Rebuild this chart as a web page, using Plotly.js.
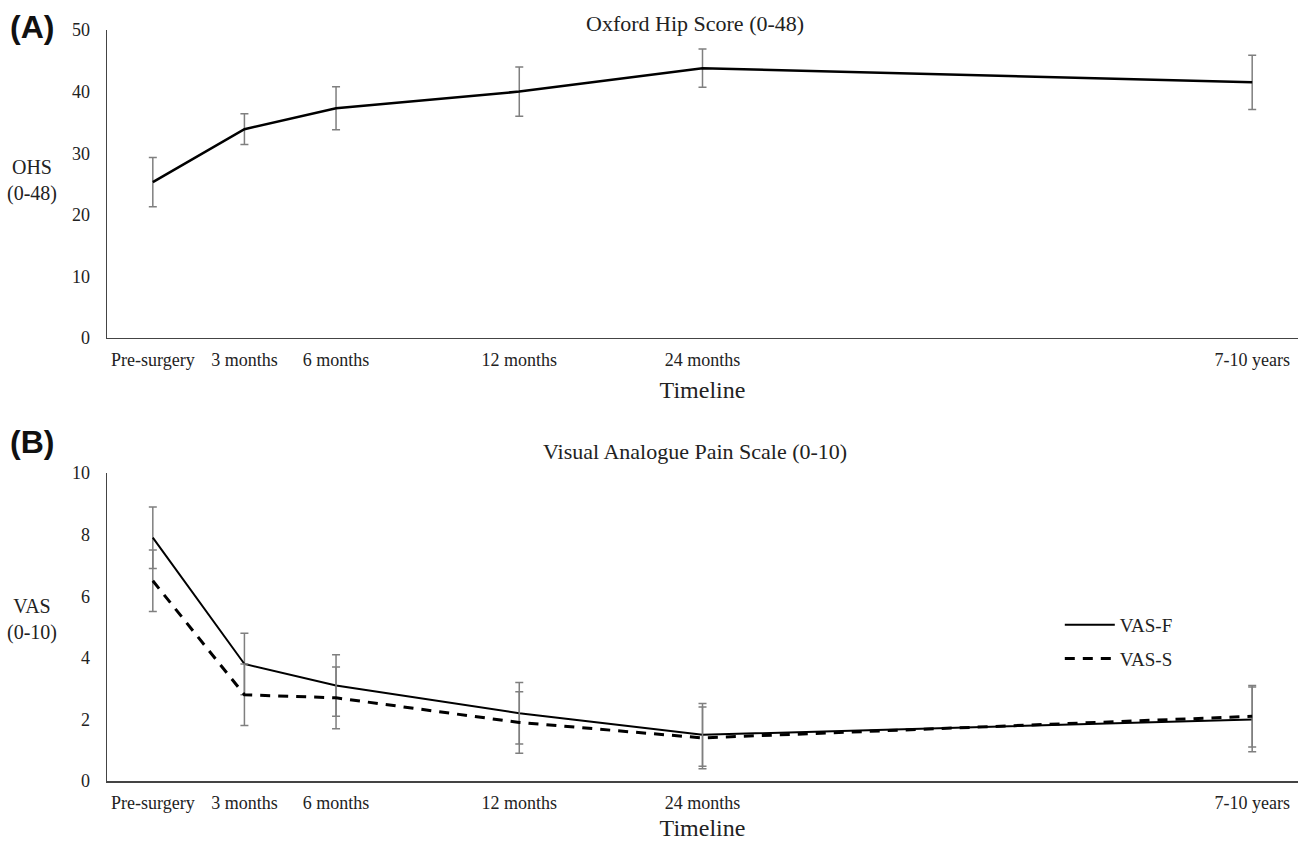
<!DOCTYPE html>
<html>
<head>
<meta charset="utf-8">
<script src="https://cdn.plot.ly/plotly-3.0.1.min.js"></script>
<style>html,body{margin:0;padding:0;background:#fff;}#chart{width:1301px;height:841px;}</style>
</head>
<body>
<div id="chart"></div>
<script>
// Timeline categories and their positions on the (non-linear) axis
const timeline = ['Pre-surgery', '3 months', '6 months', '12 months', '24 months', '7-10 years'];
const timePos = [0, 1, 2, 4, 6, 12];

// (A) Oxford Hip Score
const ohsMean = [25.3, 33.9, 37.3, 40.0, 43.8, 41.5];
const ohsSD = [4.0, 2.5, 3.5, 4.0, 3.1, 4.4];

// (B) Visual Analogue Pain Scale
const vasF = [7.9, 3.8, 3.1, 2.2, 1.5, 2.0];
const vasFSD = [1.0, 1.0, 1.0, 1.0, 1.02, 1.05];
const vasS = [6.5, 2.8, 2.7, 1.9, 1.4, 2.1];
const vasSSD = [1.0, 1.0, 1.0, 1.0, 1.0, 1.0];

const serif = 'Liberation Serif, Times New Roman, serif';
const errStyle = {type: 'data', visible: true, color: '#7f7f7f', thickness: 1.5, width: 4};

const traces = [
  {x: timePos, y: ohsMean, xaxis: 'x', yaxis: 'y', mode: 'lines', name: 'OHS', showlegend: false,
   line: {color: '#000', width: 2.5},
   error_y: Object.assign({array: ohsSD}, errStyle)},
  {x: timePos, y: vasF, xaxis: 'x2', yaxis: 'y2', mode: 'lines', name: 'VAS-F', legendgroup: 'f',
   line: {color: '#000', width: 2},
   error_y: Object.assign({array: vasFSD}, errStyle)},
  {x: timePos, y: vasS, xaxis: 'x2', yaxis: 'y2', mode: 'lines', name: 'VAS-S', legendgroup: 's',
   line: {color: '#000', width: 3, dash: '10px,8px'},
   error_y: Object.assign({array: vasSSD}, errStyle)}
];

const xBase = {
  range: [-0.5, 12.5], tickvals: timePos, ticktext: timeline,
  showline: true, linecolor: '#444', linewidth: 1.5, showgrid: false, zeroline: false,
  ticks: '', tickfont: {family: serif, size: 18, color: '#222'}, ticklabelstandoff: 5,
  title: {text: 'Timeline', font: {family: serif, size: 24, color: '#222'}, standoff: 12}
};
const yBase = {
  showline: true, linecolor: '#444', linewidth: 1.5, showgrid: false, zeroline: false,
  ticks: '', tickfont: {family: serif, size: 18, color: '#222'}, ticklabelstandoff: 12
};

const layout = {
  width: 1301, height: 841,
  margin: {l: 107, r: 3, t: 30, b: 60},
  paper_bgcolor: '#fff', plot_bgcolor: '#fff',
  xaxis: Object.assign({}, xBase, {anchor: 'y', domain: [0, 1]}),
  xaxis2: Object.assign({}, xBase, {anchor: 'y2', domain: [0, 1]}),
  yaxis: Object.assign({}, yBase, {domain: [0.5899, 1], range: [0, 50], dtick: 10, anchor: 'x'}),
  yaxis2: Object.assign({}, yBase, {domain: [0, 0.4101], range: [0, 10], dtick: 2, anchor: 'x2'}),
  showlegend: true,
  legend: {x: 0.80, y: 0.233, xanchor: 'left', yanchor: 'top', bgcolor: 'rgba(0,0,0,0)',
           font: {family: serif, size: 19, color: '#222'}, tracegroupgap: 6, itemwidth: 50},
  annotations: [
    {text: 'Oxford Hip Score (0-48)', xref: 'paper', yref: 'paper', x: 0.494, y: 1.0, yshift: 21,
     showarrow: false, font: {family: serif, size: 22, color: '#222'}},
    {text: 'Visual Analogue Pain Scale (0-10)', xref: 'paper', yref: 'paper', x: 0.494, y: 0.4101, yshift: 22,
     showarrow: false, font: {family: serif, size: 22, color: '#222'}},
    {text: 'OHS<br>(0-48)', xref: 'paper', yref: 'paper', x: -0.063, y: 0.800, xanchor: 'center', yanchor: 'middle',
     showarrow: false, font: {family: serif, size: 20, color: '#222'}},
    {text: 'VAS<br>(0-10)', xref: 'paper', yref: 'paper', x: -0.063, y: 0.2144, xanchor: 'center', yanchor: 'middle',
     showarrow: false, font: {family: serif, size: 20, color: '#222'}},
    {text: '<b>(A)</b>', xref: 'paper', yref: 'paper', x: -0.0831, y: 1.004, xanchor: 'left', yanchor: 'middle',
     showarrow: false, font: {family: 'Liberation Sans, Arial, sans-serif', size: 32, color: '#111'}},
    {text: '<b>(B)</b>', xref: 'paper', yref: 'paper', x: -0.0831, y: 0.452, xanchor: 'left', yanchor: 'middle',
     showarrow: false, font: {family: 'Liberation Sans, Arial, sans-serif', size: 32, color: '#111'}}
  ]
};

Plotly.newPlot('chart', traces, layout, {displayModeBar: false, staticPlot: true});
</script>
</body>
</html>
